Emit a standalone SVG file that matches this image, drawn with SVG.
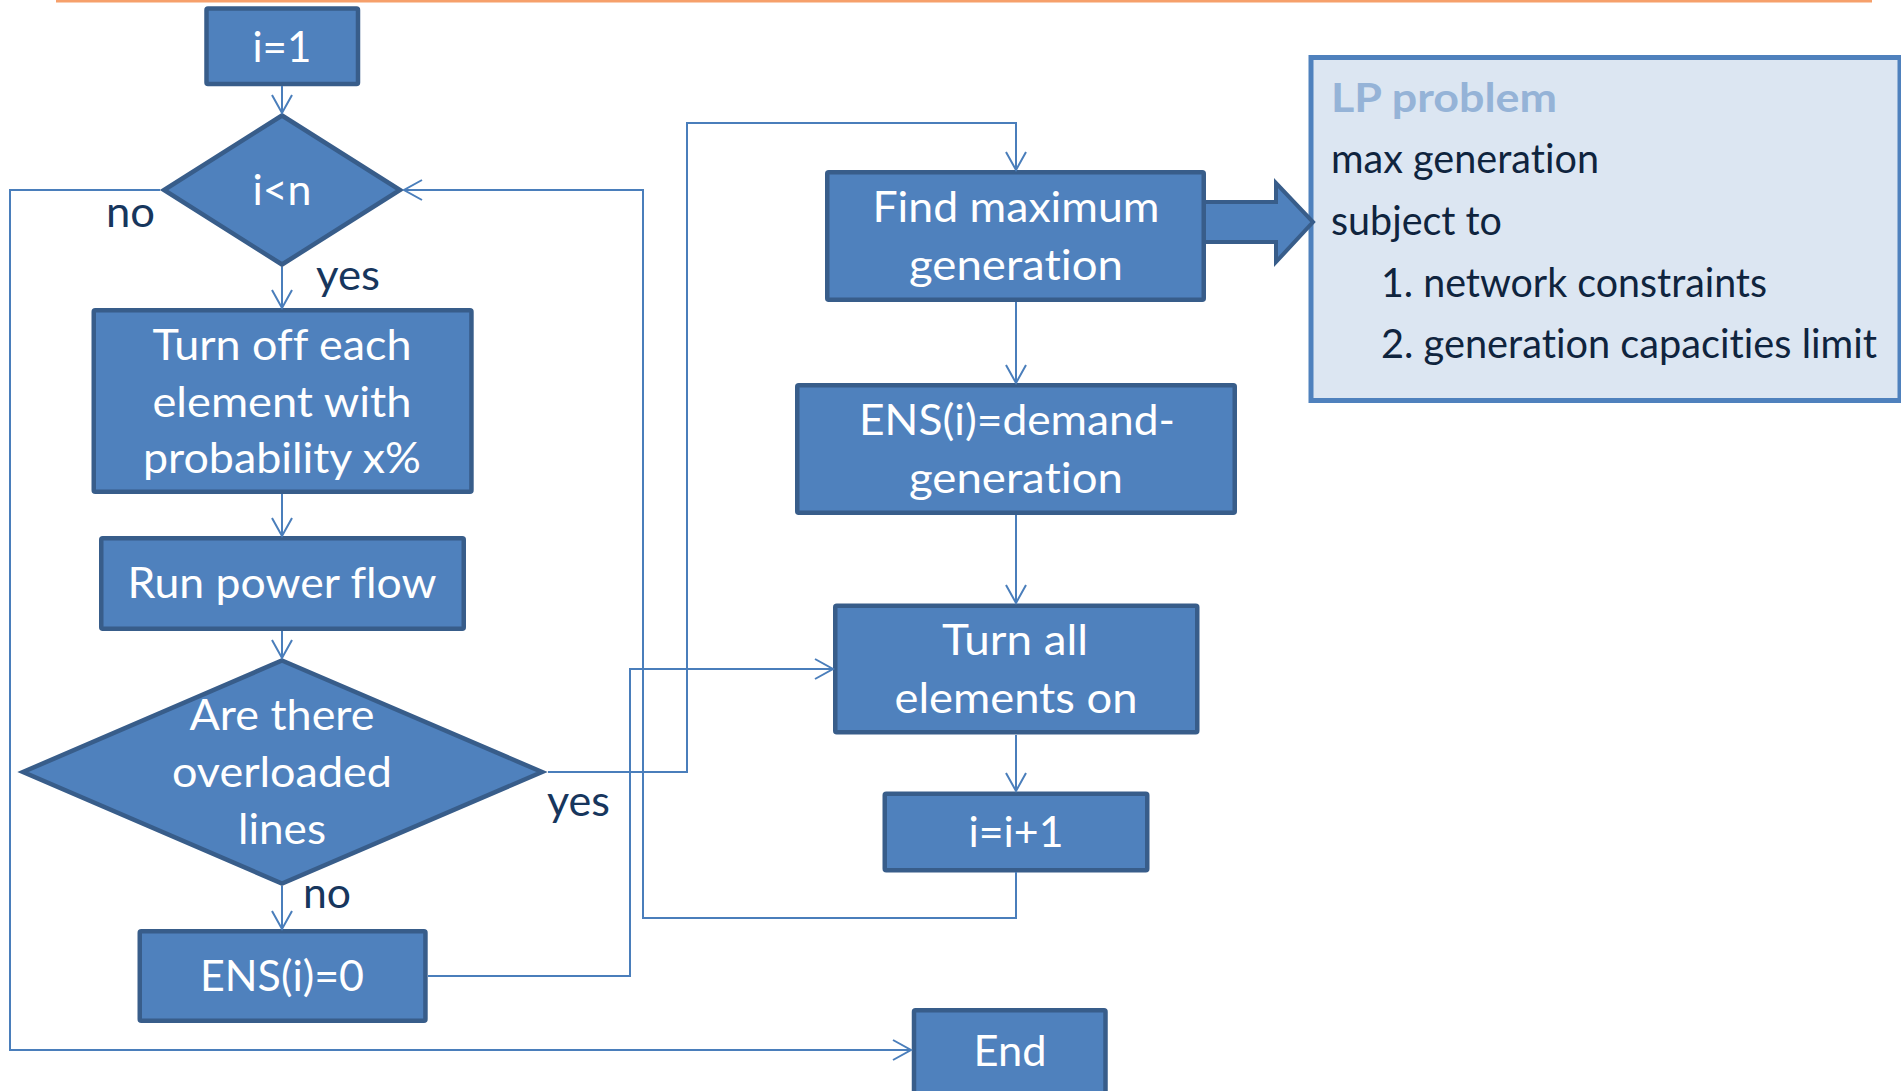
<svg xmlns="http://www.w3.org/2000/svg" width="1901" height="1091" viewBox="0 0 1901 1091">
  <style>
    text { font-variant-ligatures: none; font-feature-settings: "liga" 0, "clig" 0; }
    .box { fill: #4F81BD; stroke: #385D8A; stroke-width: 4.5; }
    .ntxt { font-family: Lato, "Open Sans", "Liberation Sans", sans-serif; font-size: 42px; fill: #FFFFFF; text-anchor: middle; }
    .lbl { font-family: Lato, "Open Sans", "Liberation Sans", sans-serif; font-size: 42px; fill: #17365D; }
    .lp { font-family: Lato, "Open Sans", "Liberation Sans", sans-serif; font-size: 40px; fill: #0F243E; }
    .lptitle { font-family: Lato, "Open Sans", "Liberation Sans", sans-serif; font-size: 40px; font-weight: bold; fill: #95B3D7; }
    .conn { fill: none; stroke: #4A7EBB; stroke-width: 2; marker-end: url(#arr); }
  </style>
  <defs>
    <marker id="arr" markerUnits="userSpaceOnUse" markerWidth="22" markerHeight="24" refX="19" refY="12" orient="auto" overflow="visible">
      <path d="M1,2 L19,12 L1,22" fill="none" stroke="#4A7EBB" stroke-width="2"/>
    </marker>
  </defs>

  <!-- header rule -->
  <rect x="56" y="0" width="1816" height="2.5" fill="#F6A06B"/>

  <!-- LP problem panel -->
  <g id="lp-problem">
    <rect x="1311" y="57.5" width="589" height="343" fill="#DCE6F2" stroke="#4F81BD" stroke-width="5"/>
    <text class="lptitle" x="1331" y="112" textLength="226" lengthAdjust="spacingAndGlyphs">LP problem</text>
    <text class="lp" x="1331" y="173" textLength="268" lengthAdjust="spacingAndGlyphs">max generation</text>
    <text class="lp" x="1331" y="235" textLength="171" lengthAdjust="spacingAndGlyphs">subject to</text>
    <text class="lp" x="1381" y="297" textLength="386" lengthAdjust="spacingAndGlyphs">1. network constraints</text>
    <text class="lp" x="1381" y="358" textLength="496" lengthAdjust="spacingAndGlyphs">2. generation capacities limit</text>
  </g>

  <!-- block arrow from Find maximum generation to LP panel -->
  <g id="lp-arrow">
    <polygon points="1203,202 1276,202 1276,183 1313,222 1276,262 1276,242 1203,242" fill="#4F81BD" stroke="#385D8A" stroke-width="4"/>
  </g>

  <g id="start">
    <rect class="box" x="206.5" y="8.5" width="151.5" height="75.5" rx="1.5"/>
    <text class="ntxt" x="282" y="62" textLength="59" lengthAdjust="spacingAndGlyphs">i=1</text>
  </g>

  <g id="check-i">
    <polygon class="box" points="282,115.5 400,190 282,264.5 164,190"/>
    <text class="ntxt" x="282" y="205" textLength="59" lengthAdjust="spacingAndGlyphs">i&lt;n</text>
  </g>

  <g id="turn-off">
    <rect class="box" x="93.75" y="310.25" width="377.7" height="181.5" rx="1.5"/>
    <text class="ntxt" x="282" y="360" textLength="259" lengthAdjust="spacingAndGlyphs">Turn off each</text>
    <text class="ntxt" x="282" y="417" textLength="259" lengthAdjust="spacingAndGlyphs">element with</text>
    <text class="ntxt" x="282" y="473" textLength="278" lengthAdjust="spacingAndGlyphs">probability x%</text>
  </g>

  <g id="power-flow">
    <rect class="box" x="101.25" y="538.25" width="362.5" height="90.5" rx="1.5"/>
    <text class="ntxt" x="282" y="598" textLength="309" lengthAdjust="spacingAndGlyphs">Run power flow</text>
  </g>

  <g id="overloaded">
    <polygon class="box" points="282,660.5 542,772 282,883.5 23,772"/>
    <text class="ntxt" x="282" y="730" textLength="185" lengthAdjust="spacingAndGlyphs">Are there</text>
    <text class="ntxt" x="282" y="787" textLength="220" lengthAdjust="spacingAndGlyphs">overloaded</text>
    <text class="ntxt" x="282" y="844" textLength="88" lengthAdjust="spacingAndGlyphs">lines</text>
  </g>

  <g id="ens-zero">
    <rect class="box" x="139.75" y="931.25" width="285.7" height="89.5" rx="1.5"/>
    <text class="ntxt" x="282" y="991" textLength="164" lengthAdjust="spacingAndGlyphs">ENS(i)=0</text>
  </g>

  <g id="find-max">
    <rect class="box" x="827.25" y="172.25" width="376.5" height="127.5" rx="1.5"/>
    <text class="ntxt" x="1016" y="222" textLength="287" lengthAdjust="spacingAndGlyphs">Find maximum</text>
    <text class="ntxt" x="1016" y="280" textLength="214" lengthAdjust="spacingAndGlyphs">generation</text>
  </g>

  <g id="ens-demand">
    <rect class="box" x="797.25" y="385.25" width="437.5" height="127.5" rx="1.5"/>
    <text class="ntxt" x="1017" y="435" textLength="316" lengthAdjust="spacingAndGlyphs">ENS(i)=demand-</text>
    <text class="ntxt" x="1016" y="493" textLength="214" lengthAdjust="spacingAndGlyphs">generation</text>
  </g>

  <g id="turn-on">
    <rect class="box" x="835.25" y="605.75" width="362" height="126.6" rx="1.5"/>
    <text class="ntxt" x="1015" y="655" textLength="146" lengthAdjust="spacingAndGlyphs">Turn all</text>
    <text class="ntxt" x="1016" y="713" textLength="243" lengthAdjust="spacingAndGlyphs">elements on</text>
  </g>

  <g id="increment">
    <rect class="box" x="884.75" y="793.75" width="262.5" height="76.6" rx="1.5"/>
    <text class="ntxt" x="1016" y="847" textLength="95" lengthAdjust="spacingAndGlyphs">i=i+1</text>
  </g>

  <g id="end">
    <rect class="box" x="914" y="1010.25" width="191.5" height="100" rx="1.5"/>
    <text class="ntxt" x="1010" y="1066" textLength="73" lengthAdjust="spacingAndGlyphs">End</text>
  </g>

  <!-- branch labels -->
  <g id="labels">
    <text class="lbl" x="106" y="227" textLength="49" lengthAdjust="spacingAndGlyphs">no</text>
    <text class="lbl" x="316" y="290" textLength="64" lengthAdjust="spacingAndGlyphs">yes</text>
    <text class="lbl" x="547" y="816" textLength="63" lengthAdjust="spacingAndGlyphs">yes</text>
    <text class="lbl" x="303" y="908" textLength="48" lengthAdjust="spacingAndGlyphs">no</text>
  </g>

  <g id="connectors">
    <path class="conn" d="M282,86 V113"/>
    <path class="conn" d="M282,267 V308"/>
    <path class="conn" d="M282,494 V536"/>
    <path class="conn" d="M282,631 V658"/>
    <path class="conn" d="M282,886 V929"/>
    <path class="conn" d="M160,190 H10 V1050 H911"/>
    <path class="conn" d="M548,772 H687 V123 H1016 V170"/>
    <path class="conn" d="M1016,302 V383"/>
    <path class="conn" d="M1016,515 V603"/>
    <path class="conn" d="M428,976 H630 V669 H833"/>
    <path class="conn" d="M1016,735 V791"/>
    <path class="conn" d="M1016,872 V918 H643 V190 H404"/>
  </g>
</svg>
